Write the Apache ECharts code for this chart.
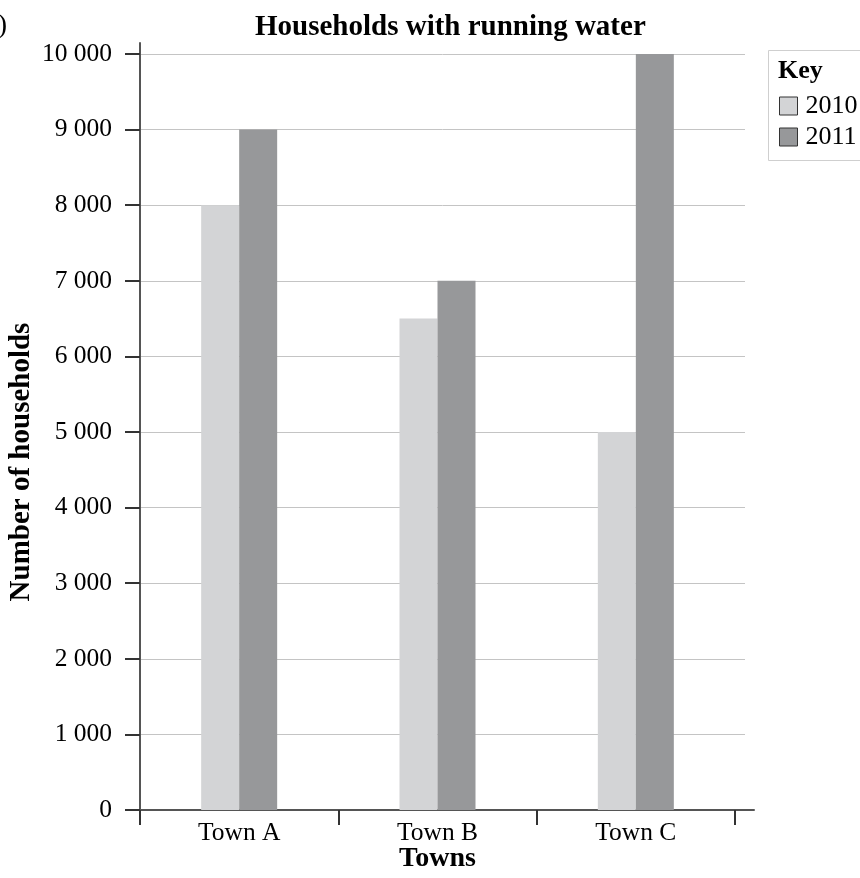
<!DOCTYPE html>
<html>
<head>
<meta charset="utf-8">
<script src="https://cdn.jsdelivr.net/npm/echarts@6/dist/echarts.min.js"></script>
<style>
html,body{margin:0;padding:0;background:#fff;}
#chart{width:860px;height:878px;}
</style>
</head>
<body>
<div id="chart"></div>
<script>
const categories = ['Town A', 'Town B', 'Town C'];
const seriesNames = ['2010', '2011'];
const values2010 = [8000, 6500, 5000];
const values2011 = [9000, 7000, 10000];
const yTickLabels = ['0', '1 000', '2 000', '3 000', '4 000', '5 000', '6 000', '7 000', '8 000', '9 000', '10 000'];

const FONT = "'Liberation Serif', 'Times New Roman', serif";
const chart = echarts.init(document.getElementById('chart'));

const option = {
  backgroundColor: '#fff',
  animation: false,
  title: [
    { text: 'Households with running water', left: 250, top: 8,
      textStyle: { fontFamily: FONT, fontWeight: 'bold', fontSize: 29, color: '#000' } },
    { text: 'Key', left: 773, top: 53,
      textStyle: { fontFamily: FONT, fontWeight: 'bold', fontSize: 26, color: '#000' } }
  ],
  graphic: [
    { type: 'rect', shape: { x: 768.5, y: 50.5, width: 110, height: 110 },
      style: { fill: 'none', stroke: '#cfcfcf', lineWidth: 1 }, z: 0 },
    { type: 'text', x: -24, y: 12,
      style: { text: '(a)', fontSize: 28, fontFamily: FONT, fill: '#000' } }
  ],
  legend: {
    orient: 'vertical', left: 774, top: 88,
    itemWidth: 18, itemHeight: 18, itemGap: 5, icon: 'rect',
    data: seriesNames,
    textStyle: { fontFamily: FONT, fontSize: 26, color: '#000', padding: [0, 0, 0, 3] },
    itemStyle: { borderColor: '#333', borderWidth: 1 }
  },
  grid: [
    { left: 140, right: 106, top: 43, bottom: 68, containLabel: false, outerBoundsMode: 'none' },
    { left: 140, right: 115, top: 54, bottom: 68, containLabel: false, outerBoundsMode: 'none' },
    { left: 140, right: 125, top: 54, bottom: 68, containLabel: false, outerBoundsMode: 'none' }
  ],
  xAxis: [
    { gridIndex: 0, type: 'value', min: 0, max: 1,
      axisLine: { show: true, onZero: false, lineStyle: { color: '#555', width: 2 } },
      axisTick: { show: false }, axisLabel: { show: false }, splitLine: { show: false } },
    { gridIndex: 1, type: 'value', min: 0, max: 1, show: false },
    { gridIndex: 2, type: 'category', data: categories,
      axisLine: { show: false },
      axisTick: { show: true, length: 15, alignWithLabel: false, lineStyle: { color: '#333', width: 2 } },
      axisLabel: { fontFamily: FONT, fontSize: 25.5, color: '#000', margin: 10 },
      name: 'Towns', nameLocation: 'middle', nameGap: 35, nameMoveOverlap: false,
      nameTextStyle: { fontFamily: FONT, fontWeight: 'bold', fontSize: 28, color: '#000' } }
  ],
  yAxis: [
    { gridIndex: 0, type: 'value', min: 0, max: 1,
      axisLine: { show: true, onZero: false, lineStyle: { color: '#555', width: 2 } },
      axisTick: { show: false }, axisLabel: { show: false }, splitLine: { show: false } },
    { gridIndex: 1, type: 'value', min: 0, max: 10000, interval: 1000,
      axisLine: { show: false },
      axisTick: { show: true, length: 15, lineStyle: { color: '#333', width: 2 } },
      axisLabel: { fontFamily: FONT, fontSize: 25.5, color: '#000', margin: 28,
        formatter: v => yTickLabels[Math.round(v / 1000)] },
      splitLine: { show: true, lineStyle: { color: '#c4c4c4', width: 1 } },
      name: 'Number of households', nameLocation: 'middle', nameGap: 104, nameMoveOverlap: false,
      nameTextStyle: { fontFamily: FONT, fontWeight: 'bold', fontSize: 29, color: '#000',
        padding: [0, 60, 0, 0] } },
    { gridIndex: 2, type: 'value', min: 0, max: 10000, show: false }
  ],
  series: [
    { name: seriesNames[0], type: 'bar', xAxisIndex: 2, yAxisIndex: 2, data: values2010,
      barWidth: 38, barGap: '0%', itemStyle: { color: '#d3d4d6' } },
    { name: seriesNames[1], type: 'bar', xAxisIndex: 2, yAxisIndex: 2, data: values2011,
      barWidth: 38, barGap: '0%', itemStyle: { color: '#97989a' } }
  ]
};
chart.setOption(option);
</script>
</body>
</html>
